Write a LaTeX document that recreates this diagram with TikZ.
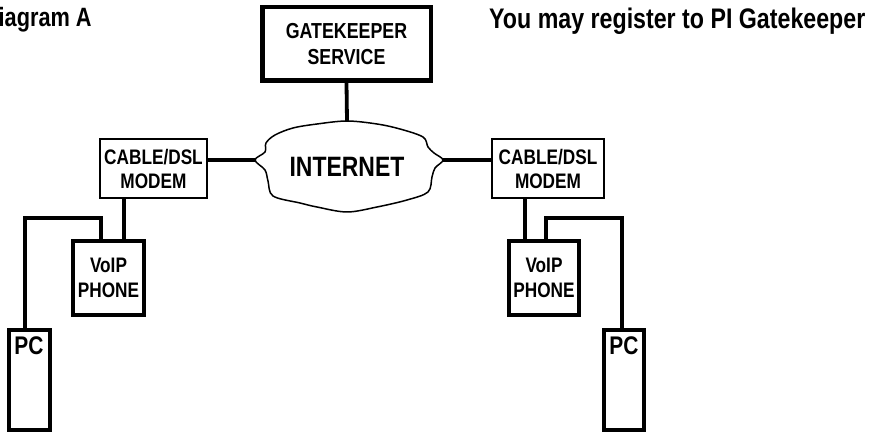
\documentclass[tikz,border=0pt]{standalone}
\usepackage{fontspec}
\newfontfamily\nf[FakeStretch=0.82]{Liberation Sans}
\begin{document}
\begin{tikzpicture}[x=1pt,y=-1pt,
  conn/.style={line width=3.8pt},
  gkbox/.style={draw,line width=4.5pt,minimum width=168.5pt,minimum height=73.5pt,inner sep=0pt,align=center,
     font=\nf\bfseries\fontsize{21.7}{25.5}\selectfont},
  modembox/.style={draw,line width=2.4pt,minimum height=58.6pt,inner sep=0pt,align=center,
     font=\nf\bfseries\fontsize{21}{24}\selectfont},
  phonebox/.style={draw,line width=4.5pt,minimum height=74pt,inner sep=0pt,align=center,
     font=\nf\bfseries\fontsize{21}{25}\selectfont},
  pcbox/.style={draw,line width=4pt,minimum height=100pt,inner sep=0pt},
  pctext/.style={anchor=base,inner sep=0pt,font=\nf\bfseries\fontsize{25.5}{30}\selectfont},
  toptext/.style={anchor=base west,inner sep=0pt,font=\nf\bfseries\fontsize{26.5}{30}\selectfont},
  cloudline/.style={line width=1.5pt,line join=round}
]
\useasboundingbox (0,0) rectangle (878,435);

% texts on top
\node[toptext] (diag) at (-1.5,27) {iagram A};
\node[toptext,font=\nf\bfseries\fontsize{28.3}{32}\selectfont] (reg) at (489,29) {You may register to PI Gatekeeper};

% gatekeeper
\node[gkbox] (gk) at (346.5,44) {GATEKEEPER\\SERVICE};

% cloud
\draw[cloudline] plot[smooth cycle,tension=0.55] coordinates {
  (255,160) (265,152) (266,143) (275,135) (293,128) (317,124) (347,121)
  (377,124) (400,129) (423,137) (428,147) (434,153) (443,160)
  (435,168) (432,177) (428,192) (407,200) (377,207) (347,212)
  (317,207) (300,203) (273,196) (268,181) (265,170)};
\node[inner sep=0pt,font=\nf\bfseries\fontsize{28}{32}\selectfont] (inet) at (347,167) {INTERNET};
\coordinate (ctop) at (347,121);
\coordinate (cleft) at (256,160);
\coordinate (cright) at (442,160);

% modems
\node[modembox,minimum width=106.6pt] (lmodem) at (153.5,168.5) {CABLE/DSL\\MODEM};
\node[modembox,minimum width=111.6pt] (rmodem) at (548,168.5) {CABLE/DSL\\MODEM};

% phones
\node[phonebox,minimum width=71pt] (lphone) at (108.5,278) {VoIP\\PHONE};
\node[phonebox,minimum width=70pt] (rphone) at (544,278) {VoIP\\PHONE};

% PCs
\node[pcbox,minimum width=41pt] (lpc) at (29.5,380) {};
\node[pcbox,minimum width=40pt] (rpc) at (624,380) {};
\node[pctext] (lpct) at (29,355) {PC};
\node[pctext] (rpct) at (624,355) {PC};

% helper coordinates
\coordinate (yrow) at (0,160);
\coordinate (ywire) at (0,218);
\coordinate (xlm) at (124,0);
\coordinate (xlpa) at (101,0);
\coordinate (xlpb) at (25,0);
\coordinate (xrm) at (525,0);
\coordinate (xrpa) at (546,0);
\coordinate (xrpb) at (622,0);

% connectors
\draw[conn] (gk.south) -- (ctop);
\draw[conn] (lmodem.east |- yrow) -- (cleft);
\draw[conn] (cright) -- (rmodem.west |- yrow);
\draw[conn] (lmodem.south -| xlm) -- (lphone.north -| xlm);
\draw[conn] (rmodem.south -| xrm) -- (rphone.north -| xrm);
\draw[conn] (lphone.north -| xlpa) -- (xlpa |- ywire) -- (xlpb |- ywire) -- (lpc.north -| xlpb);
\draw[conn] (rphone.north -| xrpa) -- (xrpa |- ywire) -- (xrpb |- ywire) -- (rpc.north -| xrpb);
\end{tikzpicture}
\end{document}
